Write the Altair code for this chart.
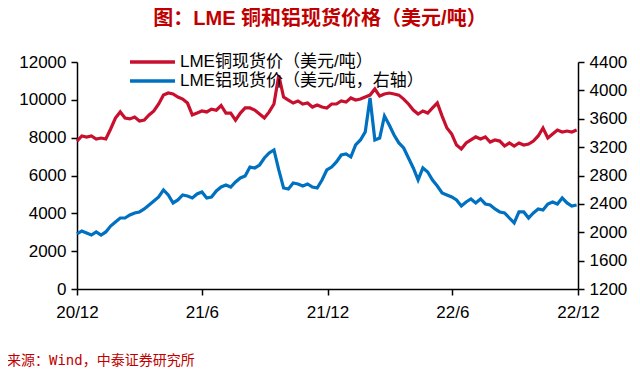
import altair as alt
import pandas as pd

# Weekly LME spot prices
copper = [7820, 8090, 8030, 8090, 7930, 7980, 7930, 8460, 9040, 9360,
          9040, 8990, 9090, 8880, 8930, 9200, 9410, 9780, 10250, 10360,
          10310, 10150, 10040, 9830, 9200, 9300, 9410, 9360, 9510, 9450,
          9700, 9300, 9300, 8930, 9300, 9570, 9570, 9460, 9250, 9040,
          9360, 9780, 11300, 10150, 9990, 9830, 9940, 9780, 9830, 9620,
          9730, 9620, 9570, 9780, 9780, 9940, 9880, 10100, 9990, 10040,
          10150, 10250, 10570, 10200, 10310, 10360, 10310, 10250, 10040, 9780,
          9460, 9250, 9410, 9300, 9570, 9830, 9140, 8510, 8190, 7610,
          7400, 7720, 7880, 8040, 7930, 8040, 7770, 7880, 7820, 7560,
          7720, 7560, 7720, 7610, 7660, 7820, 8090, 8510, 7980, 8190,
          8400, 8300, 8350, 8300, 8400]

aluminum = [1976, 2018, 1990, 1961, 2004, 1961, 2004, 2088, 2145, 2201,
            2201, 2243, 2272, 2286, 2328, 2384, 2441, 2497, 2596, 2525,
            2413, 2455, 2525, 2511, 2483, 2540, 2568, 2483, 2497, 2582,
            2638, 2666, 2638, 2709, 2765, 2793, 2920, 2906, 2948, 3047,
            3118, 3160, 2878, 2624, 2610, 2695, 2680, 2652, 2680, 2638,
            2624, 2737, 2878, 2920, 2991, 3089, 3103, 3061, 3230, 3301,
            3414, 3893, 3301, 3329, 3639, 3512, 3371, 3259, 3188, 3047,
            2906, 2737, 2906, 2850, 2737, 2652, 2554, 2525, 2497, 2455,
            2370, 2427, 2469, 2413, 2469, 2399, 2384, 2328, 2286, 2272,
            2201, 2131, 2286, 2286, 2201, 2272, 2328, 2314, 2399, 2427,
            2399, 2483, 2413, 2370, 2384]

series_names = ["LME铜现货价（美元/吨）", "LME铝现货价（美元/吨，右轴）"]
series_colors = ["#C8102E", "#0070C0"]
left_ticks = [0, 2000, 4000, 6000, 8000, 10000, 12000]
right_ticks = [1200, 1600, 2000, 2400, 2800, 3200, 3600, 4000, 4400]
x_tick_dates = [(2020, 12), (2021, 6), (2021, 12), (2022, 6), (2022, 12)]
title_text = "图：LME 铜和铝现货价格（美元/吨）"
source_text = "来源：Wind，中泰证券研究所"

dates = pd.date_range("2020-12-01", periods=len(copper), freq="7D")
df = pd.DataFrame({
    "date": list(dates) + list(dates),
    "value": copper + aluminum,
    "series": [series_names[0]] * len(copper) + [series_names[1]] * len(aluminum),
})

FONT = "Liberation Sans, Noto Sans CJK SC"
tick_dt = [alt.DateTime(year=y, month=m, date=1) for y, m in x_tick_dates]

x_enc = alt.X(
    "date:T",
    scale=alt.Scale(domain=[tick_dt[0], tick_dt[-1]]),
    axis=alt.Axis(values=tick_dt, format="%y/%-m", title=None, grid=False,
                  labelPadding=9, labelFlush=False),
)

color_enc = alt.Color(
    "series:N",
    scale=alt.Scale(domain=series_names, range=series_colors),
    legend=None,
)

copper_line = alt.Chart(df).transform_filter(
    alt.datum.series == series_names[0]
).mark_line(strokeWidth=3.2).encode(
    x=x_enc,
    y=alt.Y("value:Q", scale=alt.Scale(domain=[0, 12000], nice=False),
            axis=alt.Axis(orient="left", values=left_ticks, format="d",
                          title=None, grid=False)),
    color=color_enc,
)

al_line = alt.Chart(df).transform_filter(
    alt.datum.series == series_names[1]
).mark_line(strokeWidth=3.2).encode(
    x=x_enc,
    y=alt.Y("value:Q", scale=alt.Scale(domain=[1200, 4400], nice=False),
            axis=alt.Axis(orient="right", values=right_ticks, format="d",
                          title=None, grid=False)),
    color=color_enc,
)

# manual legend (one row per series)
legend_layers = []
for i, (name, col) in enumerate(zip(series_names, series_colors)):
    row_y = 0 + 19 * i
    ldf = pd.DataFrame({"t": [name]})
    legend_layers.append(
        alt.Chart(ldf).mark_rule(strokeWidth=3.5, color=col).encode(
            x=alt.value(53), x2=alt.value(98), y=alt.value(row_y))
    )
    legend_layers.append(
        alt.Chart(ldf).mark_text(font=FONT, fontSize=17, color="#000000",
                                 align="left", baseline="middle").encode(
            x=alt.value(103), y=alt.value(row_y), text="t:N")
    )

title_layer = alt.Chart(pd.DataFrame({"t": [title_text]})).mark_text(
    font=FONT, fontSize=20, fontWeight="bold", color="#C00000",
    align="center", baseline="middle",
).encode(x=alt.value(243), y=alt.value(-43), text="t:N")

source_layer = alt.Chart(pd.DataFrame({"t": [source_text]})).mark_text(
    font="DejaVu Sans Mono, Noto Sans CJK SC", fontSize=14, color="#C00000",
    align="left", baseline="middle",
).encode(x=alt.value(-70), y=alt.value(299), text="t:N")

chart = alt.layer(copper_line, al_line, *legend_layers, title_layer, source_layer).resolve_scale(
    y="independent"
).properties(
    width=501, height=227,
    autosize=alt.AutoSizeParams(type="none"),
    padding={"left": 69, "top": 54, "right": 54, "bottom": 80},
    background="white",
).configure_view(stroke=None).configure_axis(
    domainColor="#000000", domainWidth=1.5, tickColor="#000000", tickWidth=1.5,
    tickSize=6, labelFontSize=17, labelFont="Liberation Sans", labelColor="#000000",
    labelPadding=5,
)

chart.save("out.html", embed_options={"renderer": "svg", "actions": False})
